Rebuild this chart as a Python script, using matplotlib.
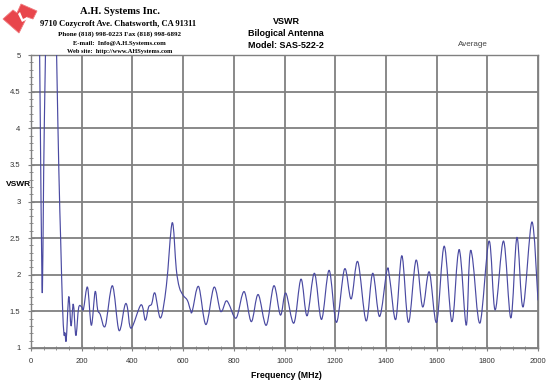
import numpy as np
import matplotlib
matplotlib.use('Agg')
import matplotlib.pyplot as plt
from matplotlib.path import Path
from matplotlib.patches import PathPatch, Polygon

# VSWR readings (MHz, ratio)
freq = [30, 38, 41, 45, 50, 57, 70, 88, 101, 110, 117, 124, 130, 134, 139,
        149, 158, 167, 177, 188, 200, 207, 223, 238, 253, 263, 273, 293, 321,
        347, 370, 380, 395, 434, 451, 464, 476, 489, 511, 534, 557, 573, 585,
        600, 617, 629, 636, 661, 690, 722, 748, 769, 782, 801, 814, 841, 869,
        896, 928, 958, 984, 1005, 1037, 1065, 1089, 1118, 1146, 1176, 1205,
        1237, 1263, 1289, 1322, 1348, 1375, 1404, 1415, 1439, 1463, 1489,
        1519, 1545, 1571, 1600, 1630, 1660, 1683, 1695, 1717, 1730, 1742,
        1771, 1807, 1831, 1864, 1893, 1917, 1941, 1976, 2000]
vswr = [6.5, 3.6, 2.57, 1.77, 3.4, 5.0, 7.5, 7.5, 5.0, 3.4, 2.48, 1.6, 1.19,
        1.21, 1.11, 1.70, 1.30, 1.60, 1.17, 1.55, 1.56, 1.53, 1.83, 1.31,
        1.77, 1.52, 1.46, 1.30, 1.85, 1.24, 1.58, 1.56, 1.27, 1.59, 1.38,
        1.56, 1.60, 1.75, 1.41, 1.85, 2.71, 2.08, 1.83, 1.72, 1.65, 1.52,
        1.50, 1.84, 1.32, 1.83, 1.50, 1.64, 1.59, 1.43, 1.44, 1.77, 1.36,
        1.73, 1.31, 1.85, 1.45, 1.75, 1.34, 1.94, 1.44, 2.02, 1.39, 2.06,
        1.35, 2.08, 1.67, 2.18, 1.37, 2.02, 1.43, 2.06, 1.95, 1.39, 2.26,
        1.35, 2.20, 1.56, 2.04, 1.35, 2.39, 1.36, 2.24, 2.23, 1.31, 2.23,
        2.22, 1.34, 2.46, 1.52, 2.46, 1.41, 2.51, 1.56, 2.72, 1.65]

x_ticks = [0, 200, 400, 600, 800, 1000, 1200, 1400, 1600, 1800, 2000]
y_ticks = [1, 1.5, 2, 2.5, 3, 3.5, 4, 4.5, 5]
y_labels = ['1', '1.5', '2', '2.5', '3', '3.5', '4', '4.5', '5']

header = ['9710 Cozycroft Ave. Chatsworth, CA 91311',
          'Phone (818) 998-0223 Fax (818) 998-6892',
          'E-mail:  Info@A.H.Systems.com',
          'Web site:  http://www.AHSystems.com']
title_lines = ['VSWR', 'Bilogical Antenna', 'Model: SAS-522-2']


# smoothed line like the spreadsheet's "smoothed line" option
def smooth_path(x, y, k=1/6):
    pts = np.column_stack([x, y]).astype(float)
    n = len(pts)
    verts = [pts[0]]
    codes = [Path.MOVETO]
    for i in range(n - 1):
        p0 = pts[i - 1] if i > 0 else pts[i]
        p1 = pts[i]
        p2 = pts[i + 1]
        p3 = pts[i + 2] if i + 2 < n else pts[i + 1]
        verts += [p1 + (p2 - p0) * k, p2 - (p3 - p1) * k, p2]
        codes += [Path.CURVE4] * 3
    return Path(verts, codes)


W, H = 550, 392
fig = plt.figure(figsize=(5.5, 3.92), dpi=100)
sans = 'Liberation Sans'
serif = 'Liberation Serif'


def fx(px):
    return px / W


def fy(py):
    return 1 - py / H


ax = fig.add_axes([fx(31), fy(348), fx(538) - fx(31), fy(55) - fy(348)])
ax.set_xlim(0, 2000)
ax.set_ylim(1, 5)
ax.add_patch(PathPatch(smooth_path(freq, vswr), facecolor='none',
                       edgecolor='#4a4aa2', lw=0.85, zorder=3))

ax.set_xticks(x_ticks)
ax.set_xticks(np.arange(0, 2001, 50), minor=True)
ax.set_yticks(y_ticks)
ax.set_yticklabels(y_labels)
ax.set_yticks(np.arange(1, 5.01, 0.1), minor=True)
ax.grid(True, which='major', color='#808080', lw=1.3)
ax.tick_params(which='major', direction='inout', length=5, color='#808080',
               labelsize=5.5, labelcolor='#333333', pad=5)
ax.tick_params(which='minor', direction='inout', length=3, color='#808080')
for lab in ax.get_xticklabels() + ax.get_yticklabels():
    lab.set_family(sans)
for s in ax.spines.values():
    s.set_color('#808080')
    s.set_linewidth(1.0)

fig.text(fx(18), fy(185), 'VSWR', ha='center', va='center', fontsize=6,
         fontweight='bold', family=sans)
fig.text(fx(286), fy(375), 'Frequency (MHz)', ha='center', va='center',
         fontsize=6.3, fontweight='bold', family=sans)

# company header
fig.text(fx(120), fy(12), 'A.H. Systems Inc.', ha='center', va='center',
         fontsize=7.6, fontweight='bold', family=serif)
fig.text(fx(118), fy(24), header[0], ha='center', va='center',
         fontsize=6.1, fontweight='bold', family=serif)
fig.text(fx(119), fy(34), header[1], ha='center', va='center',
         fontsize=5.0, fontweight='bold', family=serif)
fig.text(fx(119), fy(43.5), header[2], ha='center', va='center',
         fontsize=4.8, fontweight='bold', family=serif)
fig.text(fx(120), fy(52), header[3], ha='center', va='center',
         fontsize=4.6, fontweight='bold', family=serif)

for i, t in enumerate(title_lines):
    fig.text(fx(286), fy(22 + 12 * i), t, ha='center', va='center',
             fontsize=6.5, fontweight='bold', family=sans)
fig.text(fx(473), fy(44), 'Average', ha='center', va='center',
         fontsize=5.8, color='#444444', family=sans)

# logo
lax = fig.add_axes([0, fy(38), fx(40), fy(0) - fy(38)])
lax.set_xlim(0, 40)
lax.set_ylim(38, 0)
lax.axis('off')
lax.add_patch(Polygon([(3, 19), (13, 10), (17, 13), (21, 4), (37, 11),
                       (33, 19), (27, 17), (19, 33)], closed=True,
                      facecolor='#e8464c', edgecolor='#f07a7e', lw=0.6))
lax.add_patch(Polygon([(18, 14), (20, 12), (23, 19), (27, 17), (28, 19),
                       (22, 22)], closed=True, facecolor='white',
                      edgecolor='none'))

fig.savefig('out.png', dpi=100)
